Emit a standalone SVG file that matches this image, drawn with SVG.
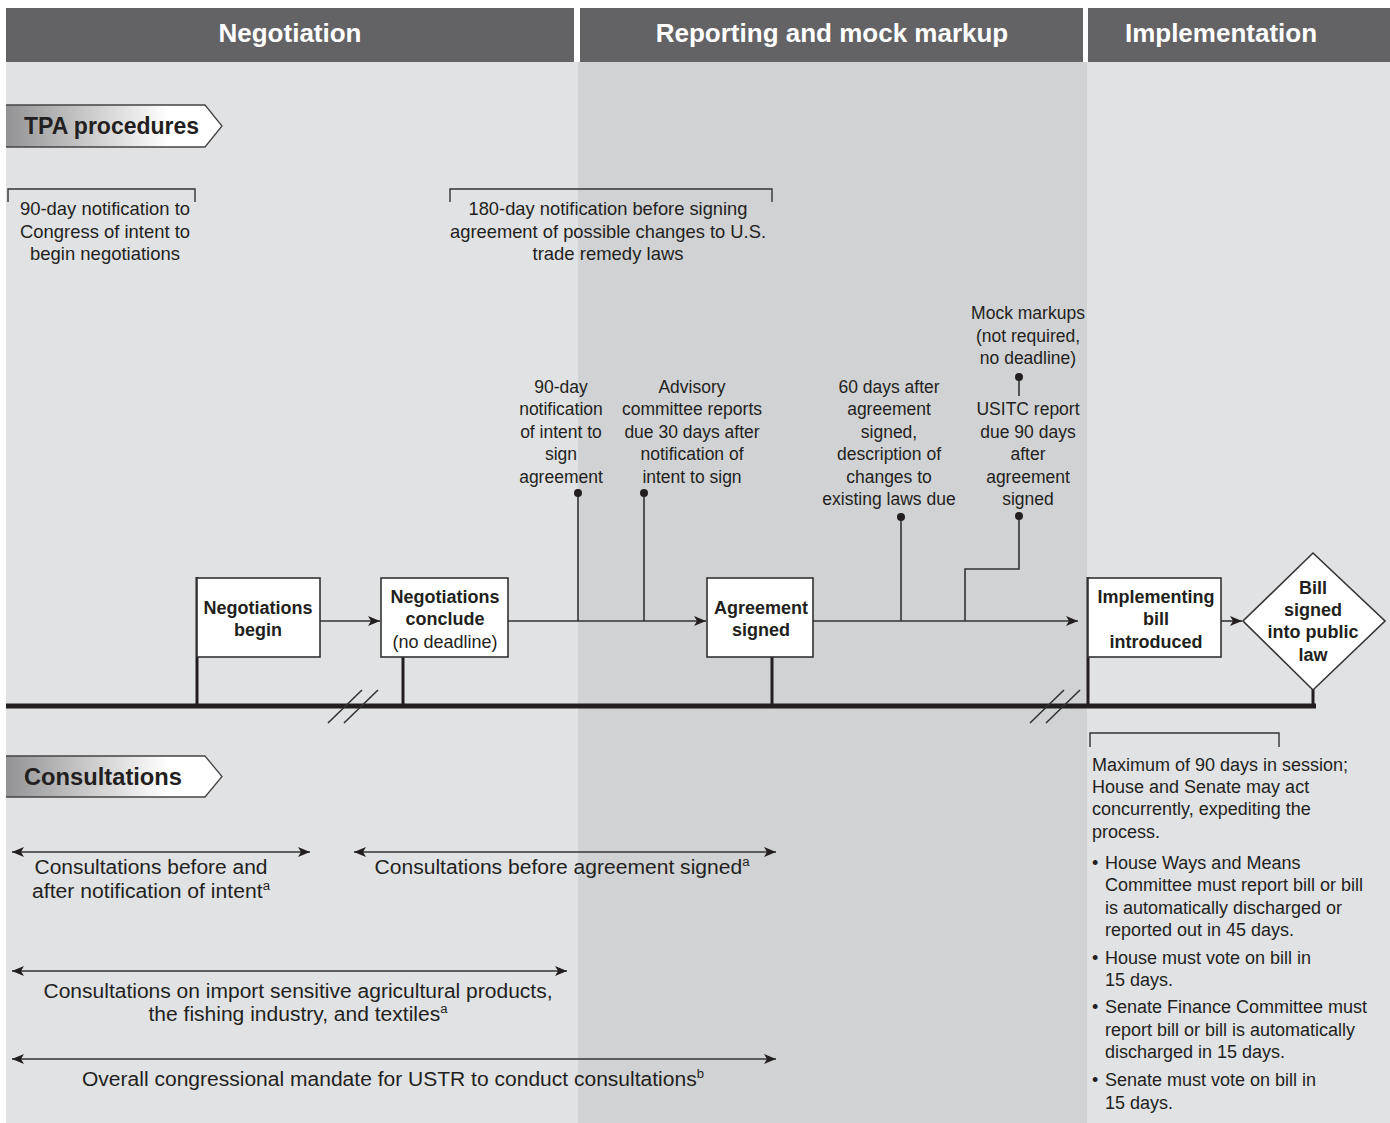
<svg xmlns="http://www.w3.org/2000/svg" width="1390" height="1123" viewBox="0 0 1390 1123">
<style>
.hdr{fill:#636365}
.ht{font-family:"Liberation Sans",Arial,sans-serif;font-weight:bold;font-size:26px;fill:#fff;text-anchor:middle}
.t{font-family:"Liberation Sans",Arial,sans-serif;font-size:17.5px;fill:#231f20;text-anchor:middle}
.tc{font-family:"Liberation Sans",Arial,sans-serif;font-size:20px;fill:#231f20;text-anchor:middle}
.tb{font-family:"Liberation Sans",Arial,sans-serif;font-size:19px;fill:#231f20;text-anchor:middle}
.tr{font-family:"Liberation Sans",Arial,sans-serif;font-size:18px;fill:#231f20}
.b{font-family:"Liberation Sans",Arial,sans-serif;font-size:18px;font-weight:bold;fill:#231f20;text-anchor:middle}
.nb{font-weight:normal}
.tab{font-family:"Liberation Sans",Arial,sans-serif;font-size:23px;font-weight:bold;fill:#231f20}
.ln{stroke:#333;stroke-width:1.6;fill:none}
.br{stroke:#333;stroke-width:1.4;fill:none}
.box{fill:#fff;stroke:#333;stroke-width:1.6}
.thick{stroke:#231f20;stroke-width:3;fill:none}
.dot{fill:#231f20}
.sup{font-size:12.5px}
</style>
<defs>
<marker id="ah" viewBox="0 0 12 10" refX="12" refY="5" markerWidth="12" markerHeight="10" markerUnits="userSpaceOnUse" orient="auto-start-reverse">
<path d="M0,0 L12,5 L0,10 L3,5 z" fill="#231f20"/>
</marker>
<linearGradient id="tg" x1="0" y1="0" x2="1" y2="0">
<stop offset="0" stop-color="#939395"/>
<stop offset="0.75" stop-color="#ffffff"/>
<stop offset="1" stop-color="#ffffff"/>
</linearGradient>
</defs>
<rect width="1390" height="1123" fill="#fff"/>
<g id="panels">
<rect x="6" y="62" width="572" height="1061" fill="#e1e2e4"/>
<rect x="578" y="62" width="509" height="1061" fill="#d1d2d4"/>
<rect x="1087" y="62" width="303" height="1061" fill="#e1e2e4"/>
</g>
<g id="headers">
<rect class="hdr" x="6" y="8" width="568" height="54"/>
<rect class="hdr" x="580" y="8" width="503" height="54"/>
<rect class="hdr" x="1088" y="8" width="302" height="54"/>
<text class="ht" x="290" y="42">Negotiation</text>
<text class="ht" x="832" y="42">Reporting and mock markup</text>
<text class="ht" x="1221" y="42">Implementation</text>
</g>
<g id="tab-tpa">
<path d="M6,105 L205,105 L222,126 L205,147 L6,147" fill="url(#tg)" stroke="#444" stroke-width="1.3"/>
<text class="tab" x="24" y="134">TPA procedures</text>
</g>
<g id="tab-consult">
<path d="M6,756 L205,756 L222,776.5 L205,797 L6,797" fill="url(#tg)" stroke="#444" stroke-width="1.3"/>
<text class="tab" x="24" y="785" textLength="158" lengthAdjust="spacingAndGlyphs">Consultations</text>
</g>
<g id="bracket-90day">
<path class="br" d="M8,202 V189 H195 V202"/>
<text class="tb" x="105" y="215" textLength="170" lengthAdjust="spacingAndGlyphs">90-day notification to</text>
<text class="tb" x="105" y="238" textLength="170" lengthAdjust="spacingAndGlyphs">Congress of intent to</text>
<text class="tb" x="105" y="260" textLength="150" lengthAdjust="spacingAndGlyphs">begin negotiations</text>
</g>
<g id="bracket-180day">
<path class="br" d="M450,202 V189 H772 V202"/>
<text class="tb" x="608" y="215" textLength="279" lengthAdjust="spacingAndGlyphs">180-day notification before signing</text>
<text class="tb" x="608" y="238" textLength="316" lengthAdjust="spacingAndGlyphs">agreement of possible changes to U.S.</text>
<text class="tb" x="608" y="260" textLength="151" lengthAdjust="spacingAndGlyphs">trade remedy laws</text>
</g>
<g id="connectors">
<line x1="6" y1="706" x2="1316" y2="706" stroke="#231f20" stroke-width="5"/>
<path class="ln" d="M328,723 L362,690 M344,723 L378,690"/>
<path class="ln" d="M1030,723 L1064,690 M1046,723 L1080,690"/>
<line class="thick" x1="197" y1="577" x2="197" y2="706"/>
<line class="thick" x1="403" y1="657" x2="403" y2="706"/>
<line class="thick" x1="772" y1="657" x2="772" y2="706"/>
<line class="thick" x1="1088" y1="577" x2="1088" y2="706"/>
<line class="thick" x1="1313" y1="689" x2="1313" y2="706"/>
<line class="ln" x1="320" y1="621" x2="380" y2="621" marker-end="url(#ah)"/>
<line class="ln" x1="508" y1="621" x2="706" y2="621" marker-end="url(#ah)"/>
<line class="ln" x1="813" y1="621" x2="1078" y2="621" marker-end="url(#ah)"/>
<line class="ln" x1="1221" y1="621" x2="1242" y2="621" marker-end="url(#ah)"/>
<line class="ln" x1="578" y1="493" x2="578" y2="621"/>
<line class="ln" x1="644" y1="493" x2="644" y2="621"/>
<line class="ln" x1="901" y1="517" x2="901" y2="621"/>
<path class="ln" d="M1019,516 V569 H965 V621"/>
<line class="ln" x1="1019" y1="377" x2="1019" y2="396"/>
<circle class="dot" cx="578" cy="493" r="4"/>
<circle class="dot" cx="644" cy="493" r="4"/>
<circle class="dot" cx="901" cy="517" r="4"/>
<circle class="dot" cx="1019" cy="516" r="4"/>
<circle class="dot" cx="1019" cy="377" r="4"/>
<line class="ln" x1="12" y1="852" x2="310" y2="852" marker-start="url(#ah)" marker-end="url(#ah)"/>
<line class="ln" x1="354" y1="852" x2="776" y2="852" marker-start="url(#ah)" marker-end="url(#ah)"/>
<line class="ln" x1="12" y1="971" x2="567" y2="971" marker-start="url(#ah)" marker-end="url(#ah)"/>
<line class="ln" x1="12" y1="1059" x2="776" y2="1059" marker-start="url(#ah)" marker-end="url(#ah)"/>
<path class="br" d="M1090,747 V733 H1279 V747"/>
</g>
<g id="node-neg-begin">
<rect class="box" x="197" y="578" width="123" height="79"/>
<text class="b" x="258" y="614">Negotiations</text>
<text class="b" x="258" y="636">begin</text>
</g>
<g id="node-neg-conclude">
<rect class="box" x="381" y="578" width="127" height="79"/>
<text class="b" x="445" y="603">Negotiations</text>
<text class="b" x="445" y="625">conclude</text>
<text class="b nb" x="445" y="648">(no deadline)</text>
</g>
<g id="node-agreement">
<rect class="box" x="707" y="578" width="106" height="79"/>
<text class="b" x="761" y="614">Agreement</text>
<text class="b" x="761" y="636">signed</text>
</g>
<g id="node-implementing">
<rect class="box" x="1088" y="578" width="133" height="79"/>
<text class="b" x="1156" y="603">Implementing</text>
<text class="b" x="1156" y="625">bill</text>
<text class="b" x="1156" y="648">introduced</text>
</g>
<g id="node-bill-law">
<path class="box" d="M1313,553 L1385,621 L1313,690 L1243,621 Z"/>
<text class="b" x="1313" y="594">Bill</text>
<text class="b" x="1313" y="616">signed</text>
<text class="b" x="1313" y="638">into public</text>
<text class="b" x="1313" y="661">law</text>
</g>
<g id="label-90day-sign">
<text class="t" x="561" y="393">90-day</text>
<text class="t" x="561" y="415">notification</text>
<text class="t" x="561" y="438">of intent to</text>
<text class="t" x="561" y="460">sign</text>
<text class="t" x="561" y="483">agreement</text>
</g>
<g id="label-advisory">
<text class="t" x="692" y="393">Advisory</text>
<text class="t" x="692" y="415">committee reports</text>
<text class="t" x="692" y="438">due 30 days after</text>
<text class="t" x="692" y="460">notification of</text>
<text class="t" x="692" y="483">intent to sign</text>
</g>
<g id="label-60days">
<text class="t" x="889" y="393">60 days after</text>
<text class="t" x="889" y="415">agreement</text>
<text class="t" x="889" y="438">signed,</text>
<text class="t" x="889" y="460">description of</text>
<text class="t" x="889" y="483">changes to</text>
<text class="t" x="889" y="505">existing laws due</text>
</g>
<g id="label-mock">
<text class="t" x="1028" y="319">Mock markups</text>
<text class="t" x="1028" y="342">(not required,</text>
<text class="t" x="1028" y="364">no deadline)</text>
</g>
<g id="label-usitc">
<text class="t" x="1028" y="415">USITC report</text>
<text class="t" x="1028" y="438">due 90 days</text>
<text class="t" x="1028" y="460">after</text>
<text class="t" x="1028" y="483">agreement</text>
<text class="t" x="1028" y="505">signed</text>
</g>
<g id="label-consult1">
<text class="tc" x="151" y="874" textLength="233" lengthAdjust="spacingAndGlyphs">Consultations before and</text>
<text class="tc" x="151" y="898" textLength="238" lengthAdjust="spacingAndGlyphs">after notification of intent<tspan class="sup" dy="-8">a</tspan></text>
</g>
<g id="label-consult2">
<text class="tc" x="562" y="874" textLength="375" lengthAdjust="spacingAndGlyphs">Consultations before agreement signed<tspan class="sup" dy="-8">a</tspan></text>
</g>
<g id="label-consult3">
<text class="tc" x="298" y="998" textLength="509" lengthAdjust="spacingAndGlyphs">Consultations on import sensitive agricultural products,</text>
<text class="tc" x="298" y="1021" textLength="299" lengthAdjust="spacingAndGlyphs">the fishing industry, and textiles<tspan class="sup" dy="-8">a</tspan></text>
</g>
<g id="label-consult4">
<text class="tc" x="393" y="1086" textLength="622" lengthAdjust="spacingAndGlyphs">Overall congressional mandate for USTR to conduct consultations<tspan class="sup" dy="-8">b</tspan></text>
</g>
<g id="label-implementation">
<text class="tr" x="1092" y="771">Maximum of 90 days in session;</text>
<text class="tr" x="1092" y="793">House and Senate may act</text>
<text class="tr" x="1092" y="815">concurrently, expediting the</text>
<text class="tr" x="1092" y="838">process.</text>
<text class="tr" x="1092" y="869">•</text>
<text class="tr" x="1105" y="869">House Ways and Means</text>
<text class="tr" x="1105" y="891">Committee must report bill or bill</text>
<text class="tr" x="1105" y="914">is automatically discharged or</text>
<text class="tr" x="1105" y="936">reported out in 45 days.</text>
<text class="tr" x="1092" y="964">•</text>
<text class="tr" x="1105" y="964">House must vote on bill in</text>
<text class="tr" x="1105" y="986">15 days.</text>
<text class="tr" x="1092" y="1013">•</text>
<text class="tr" x="1105" y="1013">Senate Finance Committee must</text>
<text class="tr" x="1105" y="1036">report bill or bill is automatically</text>
<text class="tr" x="1105" y="1058">discharged in 15 days.</text>
<text class="tr" x="1092" y="1086">•</text>
<text class="tr" x="1105" y="1086">Senate must vote on bill in</text>
<text class="tr" x="1105" y="1109">15 days.</text>
</g>
</svg>
